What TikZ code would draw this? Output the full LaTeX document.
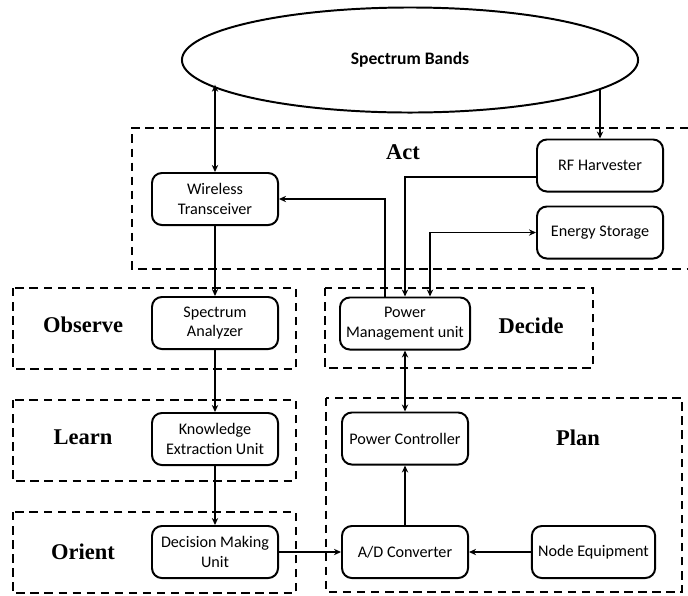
\documentclass[tikz,border=0pt]{standalone}
\usepackage{fontspec}
\setmainfont{Carlito}
\newfontfamily\stagefont{Liberation Serif}
\usetikzlibrary{arrows.meta,shapes.geometric}
\begin{document}
\begin{tikzpicture}[x=0.025cm,y=-0.025cm,
  >={Stealth[length=5pt,width=4.5pt]},
  unit/.style={draw,line width=1.4pt,rounded corners=7pt,minimum width=3.15cm,minimum height=1.3cm,
    inner sep=1pt,align=center,font=\fontsize{11.5}{14}\selectfont},
  group/.style={draw,dash pattern=on 6pt off 4pt,line width=1pt},
  stage/.style={font=\stagefont\bfseries\fontsize{16}{18}\selectfont},
  link/.style={line width=1.3pt}]
\useasboundingbox (0,0) rectangle (688,595);
\draw[group] (688,128) -- (132,128) -- (132,269) -- (688,269);
\draw[group] (13,288) rectangle (296,369);
\draw[group] (325,288) rectangle (593,368);
\draw[group] (13,400) rectangle (296,481);
\draw[group] (326,398) rectangle (682,592);
\draw[group] (13,512) rectangle (296,593);
\node[ellipse,draw,line width=1.4pt,minimum width=11.4cm,minimum height=2.625cm,inner sep=0pt,outer sep=0pt,
  font=\bfseries\fontsize{12.5}{15}\selectfont] (sb) at (410,60) {Spectrum Bands};
\node[unit] (wt) at (215,199) {Wireless\\Transceiver};
\node[unit] (rf) at (600,165.5) {RF Harvester};
\node[unit] (es) at (600,232.5) {Energy Storage};
\node[unit] (sa) at (215,323) {Spectrum\\Analyzer};
\node[unit,minimum width=3.25cm] (pm) at (405,323.5) {Power\\Management unit};
\node[unit] (kn) at (215,439) {Knowledge\\Extraction Unit};
\node[unit] (pc) at (405,438.5) {Power Controller};
\node[unit] (dm) at (215,552) {Decision Making\\Unit};
\node[unit] (ad) at (405,552) {A/D Converter};
\node[unit,minimum width=3.08cm] (ne) at (593.5,552) {Node Equipment};
\node[stage] (act) at (403,152) {Act};
\node[stage] (observe) at (83,325) {Observe};
\node[stage] (decide) at (531,326) {Decide};
\node[stage] (learn) at (83,437) {Learn};
\node[stage] (plan) at (578,438) {Plan};
\node[stage] (orient) at (83,552) {Orient};
\draw[link,<->] (wt.north) -- (wt.north |- sb.187.8);
\draw[link,->] (sb.351.3 -| rf.north) -- (rf.north);
\draw[link,->] (wt.south) -- (sa.north);
\draw[link,->] ([xshift=-0.5cm]pm.north) |- (wt.east);
\draw[link,->] ([yshift=-0.28cm]rf.west) -| (pm.north);
\draw[link,<->] ([xshift=0.625cm]pm.north) |- (es.west);
\draw[link,->] (sa.south) -- (kn.north);
\draw[link,->] (kn.south) -- (dm.north);
\draw[link,->] (dm.east) -- (ad.west);
\draw[link,->] (ne.west) -- (ad.east);
\draw[link,->] (ad.north) -- (pc.south);
\draw[link,<->] (pm.south) -- (pc.north);
\end{tikzpicture}
\end{document}
